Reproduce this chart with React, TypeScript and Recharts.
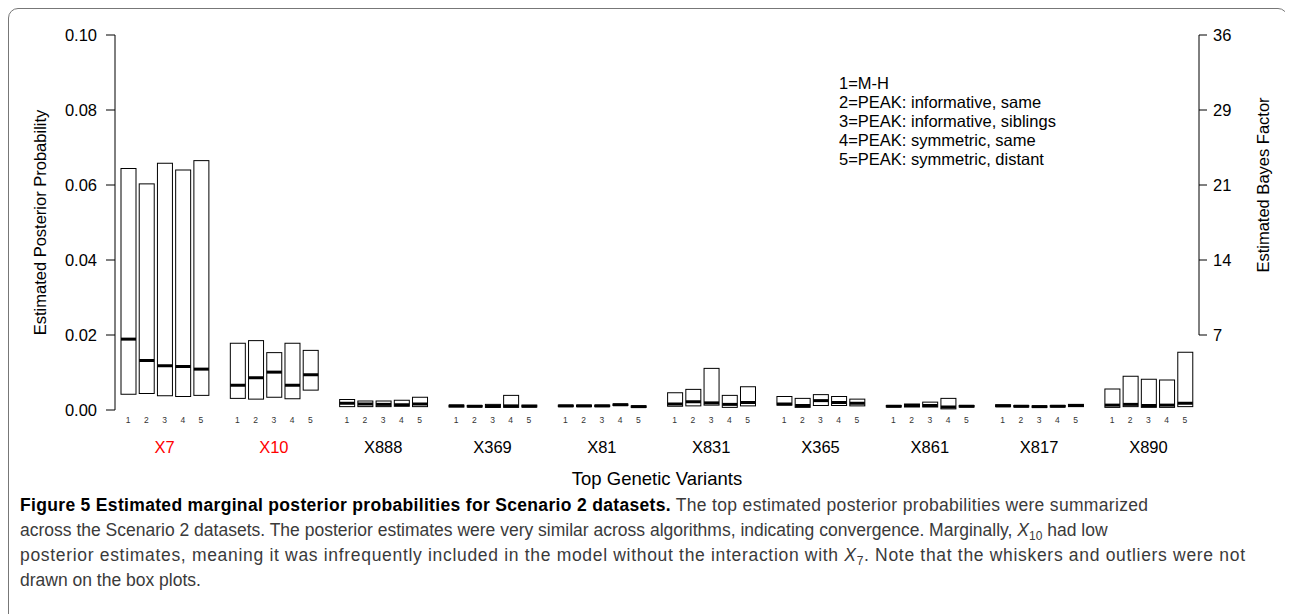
import React from 'react';
import { ComposedChart, Bar, XAxis, YAxis, Label } from 'recharts';

const variants = ['X7', 'X10', 'X888', 'X369', 'X81', 'X831', 'X365', 'X861', 'X817', 'X890'];
const highlightedVariants = ['X7', 'X10'];
const methods = ['1', '2', '3', '4', '5'];
const methodLabels = [
  '1=M-H',
  '2=PEAK: informative, same',
  '3=PEAK: informative, siblings',
  '4=PEAK: symmetric, same',
  '5=PEAK: symmetric, distant',
];

const lowerQuartiles = [
  [0.0042, 0.0044, 0.0038, 0.0036, 0.0039],
  [0.0031, 0.0029, 0.0034, 0.003, 0.0053],
  [0.0009, 0.0009, 0.0009, 0.001, 0.0009],
  [0.0008, 0.0008, 0.0007, 0.0007, 0.0008],
  [0.0009, 0.0009, 0.0009, 0.0012, 0.0007],
  [0.001, 0.0011, 0.0013, 0.0007, 0.0011],
  [0.0013, 0.0007, 0.0012, 0.0012, 0.0011],
  [0.0008, 0.0008, 0.0008, 0.0003, 0.0008],
  [0.0009, 0.0008, 0.0007, 0.0008, 0.0009],
  [0.0007, 0.0009, 0.0007, 0.0007, 0.0009],
];
const medians = [
  [0.0189, 0.0132, 0.0118, 0.0116, 0.0109],
  [0.0066, 0.0086, 0.0101, 0.0066, 0.0094],
  [0.0018, 0.0016, 0.0015, 0.0014, 0.0016],
  [0.0011, 0.001, 0.001, 0.0011, 0.001],
  [0.0011, 0.0011, 0.0011, 0.0014, 0.0009],
  [0.0016, 0.0022, 0.0019, 0.0015, 0.002],
  [0.0016, 0.0012, 0.0025, 0.002, 0.0018],
  [0.001, 0.0012, 0.0012, 0.0008, 0.001],
  [0.0011, 0.001, 0.0009, 0.001, 0.0012],
  [0.0013, 0.0015, 0.0012, 0.0013, 0.0018],
];
const upperQuartiles = [
  [0.0644, 0.0603, 0.0658, 0.064, 0.0665],
  [0.0178, 0.0185, 0.0153, 0.0178, 0.0159],
  [0.0028, 0.0024, 0.0024, 0.0026, 0.0034],
  [0.0013, 0.0012, 0.0015, 0.0039, 0.0013],
  [0.0013, 0.0013, 0.0013, 0.0016, 0.0011],
  [0.0046, 0.0055, 0.0111, 0.0039, 0.0062],
  [0.0036, 0.0031, 0.0041, 0.0036, 0.0029],
  [0.0012, 0.0016, 0.0021, 0.0031, 0.0012],
  [0.0014, 0.0012, 0.0011, 0.0012, 0.0015],
  [0.0056, 0.009, 0.0082, 0.008, 0.0154],
];

const probTicks = [0, 0.02, 0.04, 0.06, 0.08, 0.1];
const bayesTickPositions = [0.02, 0.04, 0.06, 0.08, 0.1];
const bayesTickLabels = ['7', '14', '21', '29', '36'];

type Row = { key: string; variant: string | null; method: string | null; q1?: number; med?: number; q3?: number };
const rows: Row[] = [];
variants.forEach((v, g) => {
  if (g > 0) rows.push({ key: `gap${g}`, variant: null, method: null });
  methods.forEach((m, b) =>
    rows.push({
      key: `${v}-${m}`,
      variant: v,
      method: m,
      q1: lowerQuartiles[g][b],
      med: medians[g][b],
      q3: upperQuartiles[g][b],
    })
  );
});
const rowsByKey: Record<string, Row> = {};
rows.forEach((r) => (rowsByKey[r.key] = r));

const FONT = "'Liberation Sans', Arial, Helvetica, sans-serif";

const BoxShape = (props: any) => {
  const { x, y, width, height, payload } = props;
  if (!payload || payload.q3 == null || x == null) return null;
  const top = Math.min(y, y + height);
  const h = Math.abs(height);
  const my = top + (h * (payload.q3 - payload.med)) / (payload.q3 - payload.q1);
  return (
    <g>
      <rect x={x} y={top} width={width} height={h} fill="#fff" stroke="#000" strokeWidth={1} />
      <line x1={x} x2={x + width} y1={my} y2={my} stroke="#000" strokeWidth={3} />
    </g>
  );
};

const VariantTick = (props: any) => {
  const { x, y, payload } = props;
  const row = rowsByKey[payload?.value];
  if (!row || !row.variant) return null;
  const red = highlightedVariants.includes(row.variant);
  return (
    <g>
      <text x={x} y={y + 10} textAnchor="middle" dominantBaseline="central" fontSize={8.5} fill="#333">
        {row.method}
      </text>
      {row.method === '3' && (
        <text x={x} y={y + 37} textAnchor="middle" dominantBaseline="central" fontSize={16.5} fill={red ? '#ff0000' : '#000'}>
          {row.variant}
        </text>
      )}
    </g>
  );
};

const CAPTION_FONT = "'Liberation Sans', Arial, sans-serif";

export default function App() {
  return (
    <div
      style={{
        position: 'relative',
        width: 1278,
        height: 620,
        border: '1px solid #777',
        borderRadius: 10,
        fontFamily: FONT,
        background: '#fff',
      }}
    >
      <div style={{ position: 'absolute', left: 0, top: 0 }}>
        <ComposedChart width={1278} height={500} data={rows} margin={{ top: 26, right: 88, bottom: 19, left: 0 }}>
          <XAxis
            dataKey="key"
            interval={0}
            axisLine={false}
            tickLine={false}
            tickSize={0}
            tickMargin={0}
            height={80}
            padding={{ left: 4, right: 5 }}
            tick={<VariantTick />}
          >
            <Label
              content={(p: any) => {
                const vb = p.viewBox || {};
                return (
                  <text
                    x={vb.x + vb.width / 2}
                    y={vb.y + 68}
                    textAnchor="middle"
                    dominantBaseline="central"
                    fontSize={18.5}
                    fill="#000"
                  >
                    Top Genetic Variants
                  </text>
                );
              }}
            />
          </XAxis>
          <YAxis
            width={106}
            domain={[0, 0.1]}
            ticks={probTicks}
            interval={0}
            allowDataOverflow
            tickFormatter={(v: number) => v.toFixed(2)}
            tickSize={9}
            tickMargin={9}
            axisLine={{ stroke: '#000' }}
            tickLine={{ stroke: '#000' }}
            tick={{ fill: '#000', fontSize: 16.5 }}
          >
            <Label
              content={(p: any) => {
                const vb = p.viewBox || {};
                const cx = vb.x + 31;
                const cy = vb.y + vb.height / 2;
                return (
                  <text
                    transform={`translate(${cx},${cy}) rotate(-90)`}
                    textAnchor="middle"
                    dominantBaseline="central"
                    fontSize={16.5}
                    fill="#000"
                  >
                    Estimated Posterior Probability
                  </text>
                );
              }}
            />
          </YAxis>
          <Bar
            dataKey={(r: Row) => (r.q3 == null ? null : [r.q1, r.q3])}
            barSize={15}
            shape={<BoxShape />}
            isAnimationActive={false}
          />
        </ComposedChart>
      </div>

      <div style={{ position: 'absolute', left: 0, top: 0 }}>
        <ComposedChart width={1278} height={360} data={rows} margin={{ top: 26, right: 0, bottom: 34, left: 106 }}>
          <XAxis dataKey="key" hide />
          <YAxis
            orientation="right"
            width={88}
            domain={[0.02, 0.1]}
            ticks={bayesTickPositions}
            interval={0}
            allowDataOverflow
            tickFormatter={(v: number) => bayesTickLabels[bayesTickPositions.indexOf(v)]}
            tickSize={8}
            tickMargin={6}
            axisLine={{ stroke: '#000' }}
            tickLine={{ stroke: '#000' }}
            tick={{ fill: '#000', fontSize: 16.5 }}
          >
            <Label
              content={(p: any) => {
                const vb = p.viewBox || {};
                const cx = vb.x + 64;
                const cy = vb.y + vb.height / 2;
                return (
                  <text
                    transform={`translate(${cx},${cy}) rotate(-90)`}
                    textAnchor="middle"
                    dominantBaseline="central"
                    fontSize={16.5}
                    fill="#000"
                  >
                    Estimated Bayes Factor
                  </text>
                );
              }}
            />
          </YAxis>
        </ComposedChart>
      </div>

      <div style={{ position: 'absolute', left: 830, top: 65, fontSize: 16.5, lineHeight: '19px', color: '#000' }}>
        {methodLabels.map((t) => (
          <div key={t} style={{ whiteSpace: 'nowrap' }}>
            {t}
          </div>
        ))}
      </div>

      <svg
        width={1278}
        height={130}
        style={{ position: 'absolute', left: 0, top: 480 }}
        fontFamily={CAPTION_FONT}
        fontSize={17.5}
      >
        <text x={11} y={22} textLength={1128} lengthAdjust="spacing" fill="#3a3a3a">
          <tspan fontWeight="bold" fill="#000">
            Figure 5 Estimated marginal posterior probabilities for Scenario 2 datasets.
          </tspan>
          <tspan> The top estimated posterior probabilities were summarized</tspan>
        </text>
        <text x={11} y={47} fill="#3a3a3a">
          <tspan>
            across the Scenario 2 datasets. The posterior estimates were very similar across algorithms, indicating
            convergence. Marginally,{' '}
          </tspan>
          <tspan fontStyle="italic">X</tspan>
          <tspan fontSize={12} dy={4}>
            10
          </tspan>
          <tspan dy={-4}> had low</tspan>
        </text>
        <text x={11} y={72} textLength={1225} lengthAdjust="spacing" fill="#3a3a3a">
          <tspan>
            posterior estimates, meaning it was infrequently included in the model without the interaction with{' '}
          </tspan>
          <tspan fontStyle="italic">X</tspan>
          <tspan fontSize={12} dy={4}>
            7
          </tspan>
          <tspan dy={-4}>. Note that the whiskers and outliers were not</tspan>
        </text>
        <text x={11} y={97} fill="#3a3a3a">
          drawn on the box plots.
        </text>
      </svg>
    </div>
  );
}
